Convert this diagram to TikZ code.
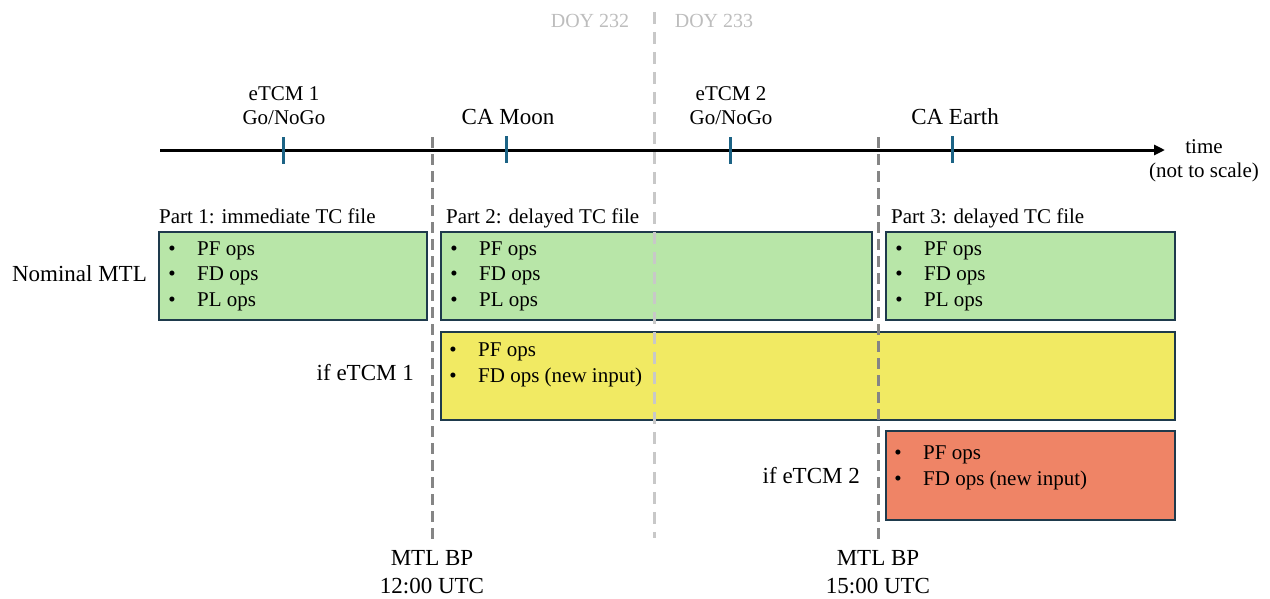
\documentclass[tikz,border=0pt]{standalone}
\usepackage{fontspec}
\setmainfont{Liberation Serif}
\usetikzlibrary{arrows.meta}
\definecolor{boxline}{HTML}{1E3A4C}
\definecolor{gfill}{HTML}{B8E6A8}
\definecolor{yfill}{HTML}{F1EA63}
\definecolor{ofill}{HTML}{EF8466}
\definecolor{tickc}{HTML}{1C6385}
\definecolor{dgray}{HTML}{858585}
\definecolor{lgray}{HTML}{C8C8C8}
\definecolor{doytext}{HTML}{BDBDBD}
\begin{document}
\begin{tikzpicture}[x=1pt,y=-1pt,
  big/.style={font=\fontsize{23}{27}\selectfont, inner sep=0pt, anchor=base},
  mid/.style={font=\fontsize{21}{25}\selectfont, inner sep=0pt, anchor=base},
  doy/.style={font=\fontsize{20}{24}\selectfont, text=doytext, inner sep=0pt, anchor=base},
  opsbox/.style={draw=boxline, line width=1.8pt, inner sep=0pt, anchor=north west},
  bul/.style={mid, anchor=base},
  itm/.style={mid, anchor=base west},
  tickmark/.style={draw=tickc, line width=3pt},
  bpline/.style={draw=dgray, line width=3pt, dash pattern=on 11pt off 6pt},
  doyline/.style={draw=lgray, line width=3pt, dash pattern=on 12pt off 8pt},
]
\useasboundingbox (0,0) rectangle (1270,598);

% boxes
\node[opsbox, fill=gfill, minimum width=268pt, minimum height=88pt] (g1) at (158,231) {};
\node[opsbox, fill=gfill, minimum width=431pt, minimum height=88pt] (g2) at (440,231) {};
\node[opsbox, fill=gfill, minimum width=289pt, minimum height=88pt] (g3) at (885,231) {};
\node[opsbox, fill=yfill, minimum width=734pt, minimum height=88pt] (y1) at (440,331) {};
\node[opsbox, fill=ofill, minimum width=289pt, minimum height=89pt] (o1) at (885,430) {};

% box headings
\node[mid, anchor=base west] (h1) at (159,223) {Part 1: immediate TC file};
\node[mid, anchor=base west] (h2) at (446,223) {Part 2: delayed TC file};
\node[mid, anchor=base west] (h3) at (891,223) {Part 3: delayed TC file};

% bullets box 1
\node[bul] (b11) at (172,255) {•};
\node[itm] (i11) at (197,255) {PF ops};
\node[bul] (b12) at (172,280) {•};
\node[itm] (i12) at (197,280) {FD ops};
\node[bul] (b13) at (172,306) {•};
\node[itm] (i13) at (197,306) {PL ops};
% bullets box 2
\node[bul] (b21) at (454,255) {•};
\node[itm] (i21) at (479,255) {PF ops};
\node[bul] (b22) at (454,280) {•};
\node[itm] (i22) at (479,280) {FD ops};
\node[bul] (b23) at (454,306) {•};
\node[itm] (i23) at (479,306) {PL ops};
% bullets box 3
\node[bul] (b31) at (899,255) {•};
\node[itm] (i31) at (924,255) {PF ops};
\node[bul] (b32) at (899,280) {•};
\node[itm] (i32) at (924,280) {FD ops};
\node[bul] (b33) at (899,306) {•};
\node[itm] (i33) at (924,306) {PL ops};
% yellow
\node[bul] (by1) at (453,356) {•};
\node[itm] (iy1) at (478,356) {PF ops};
\node[bul] (by2) at (453,382) {•};
\node[itm] (iy2) at (478,382) {FD ops (new input)};
% orange
\node[bul] (bo1) at (898,459) {•};
\node[itm] (io1) at (923,459) {PF ops};
\node[bul] (bo2) at (898,485) {•};
\node[itm] (io2) at (923,485) {FD ops (new input)};

% row labels
\node[big, anchor=base east] (nom) at (147,281) {Nominal MTL};
\node[big, anchor=base east] (if1) at (414,380) {if eTCM 1};
\node[big, anchor=base east] (if2) at (860,483) {if eTCM 2};

% DOY divider
\coordinate (doyTop) at (654,12);
\coordinate (doyBot) at (654,538);
\draw[doyline] (doyTop) -- (doyBot);
\node[doy] (d232) at (590,27) {DOY 232};
\node[doy] (d233) at (714,27) {DOY 233};

% MTL BP lines
\coordinate (bp1Top) at (432,137);
\coordinate (bp1Bot) at (432,540);
\coordinate (bp2Top) at (878,137);
\coordinate (bp2Bot) at (878,540);
\draw[bpline] (bp1Top) -- (bp1Bot);
\draw[bpline] (bp2Top) -- (bp2Bot);
\node[big] (bp1a) at (432,565) {MTL BP};
\node[big] (bp1b) at (432,593) {12:00 UTC};
\node[big] (bp2a) at (878,565) {MTL BP};
\node[big] (bp2b) at (878,593) {15:00 UTC};

% time axis
\coordinate (axL) at (160,150);
\coordinate (axR) at (1165,150);
\draw[line width=3pt, -{Triangle[length=11pt,width=10pt]}] (axL) -- (axR);
\node[mid] (time1) at (1204,153) {time};
\node[mid] (time2) at (1204,177) {(not to scale)};

% ticks
\coordinate (t1a) at (283,137); \coordinate (t1b) at (283,164);
\coordinate (t2a) at (506,136); \coordinate (t2b) at (506,163);
\coordinate (t3a) at (730,137); \coordinate (t3b) at (730,164);
\coordinate (t4a) at (952,136); \coordinate (t4b) at (952,163);
\draw[tickmark] (t1a) -- (t1b);
\draw[tickmark] (t2a) -- (t2b);
\draw[tickmark] (t3a) -- (t3b);
\draw[tickmark] (t4a) -- (t4b);

% event labels
\node[mid] (e1a) at (284,100) {eTCM 1};
\node[mid] (e1b) at (284,124) {Go/NoGo};
\node[big] (cam) at (508,124) {CA Moon};
\node[mid] (e2a) at (731,100) {eTCM 2};
\node[mid] (e2b) at (731,124) {Go/NoGo};
\node[big] (cae) at (955,124) {CA Earth};
\end{tikzpicture}
\end{document}
